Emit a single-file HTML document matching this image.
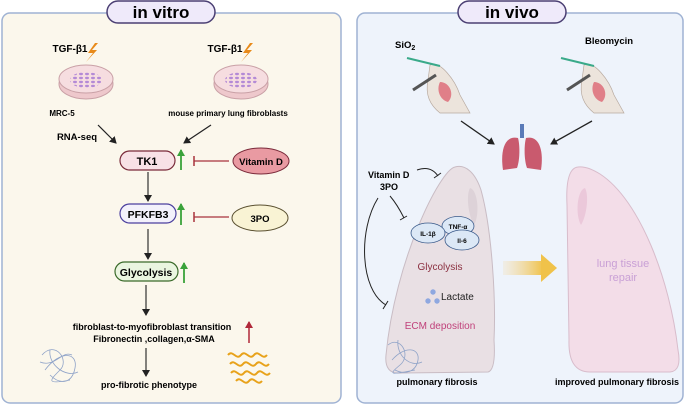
<!DOCTYPE html>
<html><head><meta charset="utf-8"><style>
body{margin:0;background:#fff;}
svg{display:block;font-family:"Liberation Sans",sans-serif;}
.b{font-weight:bold;}
</style></head><body>
<svg width="685" height="405" viewBox="0 0 685 405" xmlns="http://www.w3.org/2000/svg">
<defs>
<marker id="ak" markerWidth="8" markerHeight="8" refX="6" refY="4" orient="auto" markerUnits="userSpaceOnUse"><path d="M0,0 L7,4 L0,8 z" fill="#222"/></marker>
<marker id="ag" markerWidth="8" markerHeight="8" refX="6" refY="4" orient="auto" markerUnits="userSpaceOnUse"><path d="M0,0 L7,4 L0,8 z" fill="#3aa23a"/></marker>
<marker id="ar" markerWidth="8" markerHeight="8" refX="6" refY="4" orient="auto" markerUnits="userSpaceOnUse"><path d="M0,0 L7,4 L0,8 z" fill="#b0283a"/></marker>
<linearGradient id="yg" x1="0" x2="1"><stop offset="0" stop-color="#f4d79a" stop-opacity="0.2"/><stop offset="1" stop-color="#f0c24a"/></linearGradient>
<pattern id="cells" width="6" height="4" patternUnits="userSpaceOnUse"><ellipse cx="3" cy="2" rx="2" ry="1.2" fill="#b48ad6"/></pattern>
</defs>
<rect x="2" y="13" width="339" height="390" rx="8" fill="#fbf7ec" stroke="#9fb2d3" stroke-width="1.5"/>
<rect x="357" y="13" width="326" height="390" rx="8" fill="#eef3fb" stroke="#9fb2d3" stroke-width="1.5"/>
<rect x="107" y="1" width="108" height="22" rx="11" fill="#efeafa" stroke="#4b3f73" stroke-width="1.5"/>
<text x="161" y="18" text-anchor="middle" class="b" font-size="17">in vitro</text>
<rect x="458" y="1" width="108" height="22" rx="11" fill="#efeafa" stroke="#4b3f73" stroke-width="1.5"/>
<text x="512" y="18" text-anchor="middle" class="b" font-size="17">in vivo</text>

<text x="70" y="52" text-anchor="middle" class="b" font-size="10">TGF-β1</text>
<text x="225" y="52" text-anchor="middle" class="b" font-size="10">TGF-β1</text>
<path d="M95,43 L88,53 L93,53 L86,62 L97,50 L92,50 L98,43z" fill="#e88a1a"/>
<path d="M250,43 L243,53 L248,53 L241,62 L252,50 L247,50 L253,43z" fill="#e88a1a"/>
<g>
<ellipse cx="86" cy="84" rx="27" ry="15" fill="#eec8cc" stroke="#c9a0a6"/>
<ellipse cx="86" cy="79" rx="27" ry="14" fill="#f6dde0" stroke="#c9a0a6"/>
<ellipse cx="86" cy="80" rx="16" ry="8" fill="url(#cells)"/>
<ellipse cx="241" cy="84" rx="27" ry="15" fill="#eec8cc" stroke="#c9a0a6"/>
<ellipse cx="241" cy="79" rx="27" ry="14" fill="#f6dde0" stroke="#c9a0a6"/>
<ellipse cx="241" cy="80" rx="16" ry="8" fill="url(#cells)"/>
</g>
<text x="62" y="116" text-anchor="middle" class="b" font-size="8">MRC-5</text>
<text x="228" y="116" text-anchor="middle" class="b" font-size="8">mouse primary lung fibroblasts</text>
<text x="77" y="140" text-anchor="middle" class="b" font-size="9.5">RNA-seq</text>
<line x1="98" y1="125" x2="116" y2="143" stroke="#222" stroke-width="1.2" marker-end="url(#ak)"/>
<line x1="211" y1="125" x2="184" y2="143" stroke="#222" stroke-width="1.2" marker-end="url(#ak)"/>

<rect x="120" y="151" width="55" height="19" rx="9.5" fill="#f8e1e6" stroke="#7a2a3a" stroke-width="1.2"/>
<text x="147" y="165" text-anchor="middle" class="b" font-size="11">TK1</text>
<line x1="181" y1="170" x2="181" y2="150" stroke="#3aa23a" stroke-width="1.8" marker-end="url(#ag)"/>
<line x1="229" y1="161" x2="194" y2="161" stroke="#a8323c" stroke-width="1.3"/>
<line x1="194" y1="156" x2="194" y2="166" stroke="#a8323c" stroke-width="1.5"/>
<ellipse cx="261" cy="161" rx="28" ry="13" fill="#e99aa2" stroke="#7a2a3a" stroke-width="1"/>
<text x="261" y="165" text-anchor="middle" class="b" font-size="9.5">Vitamin D</text>

<line x1="148" y1="172" x2="148" y2="201" stroke="#333" stroke-width="1.2" marker-end="url(#ak)"/>
<rect x="120" y="204" width="56" height="19" rx="9.5" fill="#f3f1fb" stroke="#4b3f9e" stroke-width="1.2"/>
<text x="148" y="218" text-anchor="middle" class="b" font-size="10.5">PFKFB3</text>
<line x1="181" y1="225" x2="181" y2="204" stroke="#3aa23a" stroke-width="1.8" marker-end="url(#ag)"/>
<line x1="229" y1="217" x2="194" y2="217" stroke="#a8323c" stroke-width="1.3"/>
<line x1="194" y1="212" x2="194" y2="222" stroke="#a8323c" stroke-width="1.5"/>
<ellipse cx="260" cy="218" rx="28" ry="13" fill="#f9f3d4" stroke="#5a5030" stroke-width="1"/>
<text x="260" y="222" text-anchor="middle" class="b" font-size="9.5">3PO</text>

<line x1="148" y1="229" x2="148" y2="259" stroke="#333" stroke-width="1.2" marker-end="url(#ak)"/>
<rect x="115" y="262" width="63" height="19" rx="9.5" fill="#eaf5e0" stroke="#3a6a2a" stroke-width="1.2"/>
<text x="146" y="276" text-anchor="middle" class="b" font-size="10.5">Glycolysis</text>
<line x1="184" y1="283" x2="184" y2="263" stroke="#3aa23a" stroke-width="1.8" marker-end="url(#ag)"/>

<line x1="146" y1="285" x2="146" y2="315" stroke="#333" stroke-width="1.2" marker-end="url(#ak)"/>
<text x="152" y="330" text-anchor="middle" class="b" font-size="9">fibroblast-to-myofibroblast transition</text>
<text x="154" y="342" text-anchor="middle" class="b" font-size="9">Fibronectin ,collagen,α-SMA</text>
<line x1="249" y1="343" x2="249" y2="322" stroke="#b0283a" stroke-width="1.5" marker-end="url(#ar)"/>
<line x1="146" y1="348" x2="146" y2="376" stroke="#333" stroke-width="1.2" marker-end="url(#ak)"/>
<text x="149" y="388" text-anchor="middle" class="b" font-size="9">pro-fibrotic phenotype</text>
<g fill="none" stroke="#8fa3c8" stroke-width="0.8">
<path d="M42,355 C55,340 70,360 60,370 S45,385 70,380 M45,370 C60,350 78,352 75,368 S60,385 50,375 M50,350 C48,365 66,378 78,372 M40,362 C55,368 62,350 72,355"/>
</g>
<g fill="none" stroke="#e8a21a" stroke-width="2">
<path d="M228,355 c5,-6 8,6 13,0 s8,6 13,0 s8,6 13,0 M230,364 c5,-6 8,6 13,0 s8,6 13,0 s8,6 13,0 M231,373 c5,-6 8,6 13,0 s8,6 13,0 s8,6 13,0 M236,381 c5,-6 8,6 13,0 s8,6 13,0"/>
</g>

<text x="395" y="48" class="b" font-size="9.5">SiO<tspan font-size="7" dy="2">2</tspan></text>
<text x="585" y="44" class="b" font-size="9.5">Bleomycin</text>
<g>
<path d="M430,65 C440,60 455,80 460,95 L470,113 L440,113 C430,105 425,95 428,80z" fill="#ece4dc" stroke="#b8aaa0" stroke-width="0.7"/>
<path d="M440,82 C450,82 455,95 448,102 C440,100 436,90 440,82z" fill="#e07f88"/>
<line x1="407" y1="58" x2="440" y2="66" stroke="#3aaa8a" stroke-width="2"/>
<line x1="413" y1="90" x2="436" y2="75" stroke="#555" stroke-width="3"/>
<path d="M584,65 C594,60 609,80 614,95 L624,113 L594,113 C584,105 579,95 582,80z" fill="#ece4dc" stroke="#b8aaa0" stroke-width="0.7"/>
<path d="M594,82 C604,82 609,95 602,102 C594,100 590,90 594,82z" fill="#e07f88"/>
<line x1="561" y1="58" x2="594" y2="66" stroke="#3aaa8a" stroke-width="2"/>
<line x1="567" y1="90" x2="590" y2="75" stroke="#555" stroke-width="3"/>
</g>
<line x1="461" y1="121" x2="494" y2="144" stroke="#222" stroke-width="1.3" marker-end="url(#ak)"/>
<line x1="592" y1="121" x2="551" y2="144" stroke="#222" stroke-width="1.3" marker-end="url(#ak)"/>
<g>
<rect x="520" y="124" width="4" height="14" fill="#5a7ab8"/>
<path d="M518,138 C505,135 500,150 503,170 L517,168 C520,160 520,145 518,138z" fill="#c95a6e"/>
<path d="M526,138 C539,135 544,150 541,170 L527,168 C524,160 524,145 526,138z" fill="#c95a6e"/>
</g>
<path d="M455,167 C440,170 395,260 386,355 Q384,375 402,373 L488,372 Q496,370 494,340 C496,300 492,230 481,190 C475,172 465,164 455,167Z" fill="#e9e0e4" stroke="#c9bcc4"/>
<path d="M578,167 C568,168 566,185 567,205 L569,340 Q568,372 590,372 L670,372 Q682,371 678,350 C670,280 640,200 600,174 C592,169 585,166 578,167Z" fill="#f3dde8" stroke="#d8bccb"/>
<path d="M470,188 C478,190 480,215 474,225 C468,215 466,195 470,188z" fill="#ddd2d8"/>
<path d="M585,188 C577,190 575,215 581,225 C587,215 589,195 585,188z" fill="#ebc8da"/>
<text x="368" y="178" class="b" font-size="9">Vitamin D</text>
<text x="380" y="190" class="b" font-size="9">3PO</text>
<path d="M417,170 C428,166 434,170 438,176" fill="none" stroke="#222"/>
<line x1="434" y1="178" x2="441" y2="173" stroke="#222"/>
<path d="M390,196 C396,203 400,210 404,218" fill="none" stroke="#222"/>
<line x1="400" y1="220" x2="407" y2="216" stroke="#222"/>
<path d="M378,198 C358,230 360,290 386,305" fill="none" stroke="#222"/>
<line x1="383" y1="309" x2="388" y2="301" stroke="#222"/>
<ellipse cx="458" cy="226" rx="16" ry="9.5" fill="#dce8f6" stroke="#3a5a8a" stroke-width="0.8"/>
<ellipse cx="428" cy="233" rx="17" ry="10" fill="#dce8f6" stroke="#3a5a8a" stroke-width="0.8"/>
<ellipse cx="462" cy="240" rx="17" ry="10" fill="#dce8f6" stroke="#3a5a8a" stroke-width="0.8"/>
<text x="458" y="229" text-anchor="middle" class="b" font-size="6.5">TNF-α</text>
<text x="428" y="236" text-anchor="middle" class="b" font-size="6.5">IL-1β</text>
<text x="462" y="243" text-anchor="middle" class="b" font-size="6.5">Il-6</text>
<text x="440" y="270" text-anchor="middle" font-size="10" fill="#8b3040">Glycolysis</text>
<circle cx="433" cy="292" r="2.7" fill="#8fa8e0"/><circle cx="428" cy="301" r="2.7" fill="#8fa8e0"/><circle cx="437" cy="301" r="2.7" fill="#8fa8e0"/>
<text x="441" y="300" font-size="10" fill="#222">Lactate</text>
<text x="440" y="329" text-anchor="middle" font-size="10" fill="#c0407a">ECM deposition</text>
<g fill="none" stroke="#8fa3c8" stroke-width="0.8"><path d="M388,345 C400,335 412,355 400,365 S390,375 415,370 M392,360 C405,345 420,348 418,360 S405,375 395,370 M398,340 C396,355 410,368 422,362"/></g>
<rect x="503" y="261" width="40" height="14" fill="url(#yg)"/>
<path d="M541,254 L557,268 L541,282z" fill="#f0c24a"/>
<text x="623" y="267" text-anchor="middle" font-size="11" fill="#c9a0d6">lung tissue</text>
<text x="623" y="281" text-anchor="middle" font-size="11" fill="#c9a0d6">repair</text>
<text x="437" y="385" text-anchor="middle" class="b" font-size="9">pulmonary fibrosis</text>
<text x="617" y="385" text-anchor="middle" class="b" font-size="9">improved pulmonary fibrosis</text>
</svg>
</body></html>
